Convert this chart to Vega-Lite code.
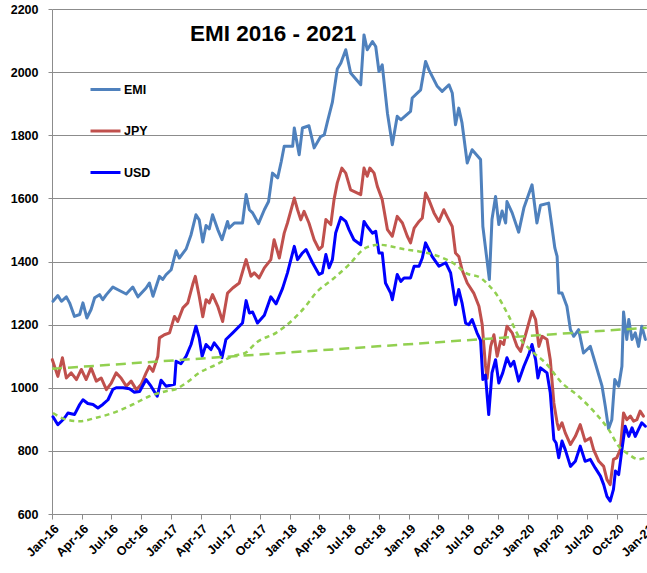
{
  "$schema": "https://vega.github.io/schema/vega-lite/v6.json",
  "autosize": {"type": "none"},
  "width": 595,
  "height": 505,
  "padding": {"left": 52, "top": 9, "right": 0, "bottom": 59},
  "background": "white",
  "title": {"text": "EMI 2016 - 2021", "anchor": "start", "frame": "group", "orient": "top", "offset": -27, "dx": 138, "dy": 33, "baseline": "alphabetic", "font": "Liberation Sans", "fontSize": 22.5, "fontWeight": "bold", "color": "black"},
  "datasets": {
    "series": [
      {"series":"EMI","date":"2016-01-04","value":1274},{"series":"EMI","date":"2016-01-19","value":1292},{"series":"EMI","date":"2016-01-30","value":1274},{"series":"EMI","date":"2016-02-14","value":1288},{"series":"EMI","date":"2016-02-24","value":1269},{"series":"EMI","date":"2016-03-10","value":1226},{"series":"EMI","date":"2016-03-26","value":1232},{"series":"EMI","date":"2016-04-05","value":1269},{"series":"EMI","date":"2016-04-17","value":1221},{"series":"EMI","date":"2016-04-30","value":1248},{"series":"EMI","date":"2016-05-11","value":1285},{"series":"EMI","date":"2016-05-26","value":1295},{"series":"EMI","date":"2016-06-05","value":1279},{"series":"EMI","date":"2016-06-16","value":1295},{"series":"EMI","date":"2016-07-06","value":1319},{"series":"EMI","date":"2016-07-26","value":1308},{"series":"EMI","date":"2016-08-16","value":1297},{"series":"EMI","date":"2016-09-05","value":1319},{"series":"EMI","date":"2016-09-21","value":1288},{"series":"EMI","date":"2016-10-16","value":1316},{"series":"EMI","date":"2016-10-26","value":1332},{"series":"EMI","date":"2016-11-06","value":1290},{"series":"EMI","date":"2016-11-26","value":1353},{"series":"EMI","date":"2016-12-06","value":1343},{"series":"EMI","date":"2016-12-16","value":1358},{"series":"EMI","date":"2017-01-01","value":1374},{"series":"EMI","date":"2017-01-16","value":1434},{"series":"EMI","date":"2017-01-26","value":1411},{"series":"EMI","date":"2017-02-16","value":1440},{"series":"EMI","date":"2017-03-03","value":1485},{"series":"EMI","date":"2017-03-18","value":1548},{"series":"EMI","date":"2017-03-28","value":1532},{"series":"EMI","date":"2017-04-08","value":1462},{"series":"EMI","date":"2017-04-18","value":1514},{"series":"EMI","date":"2017-04-28","value":1503},{"series":"EMI","date":"2017-05-08","value":1548},{"series":"EMI","date":"2017-05-24","value":1501},{"series":"EMI","date":"2017-06-06","value":1469},{"series":"EMI","date":"2017-06-23","value":1527},{"series":"EMI","date":"2017-06-28","value":1506},{"series":"EMI","date":"2017-07-14","value":1522},{"series":"EMI","date":"2017-08-08","value":1522},{"series":"EMI","date":"2017-08-19","value":1612},{"series":"EMI","date":"2017-08-29","value":1564},{"series":"EMI","date":"2017-09-08","value":1554},{"series":"EMI","date":"2017-09-26","value":1520},{"series":"EMI","date":"2017-10-14","value":1564},{"series":"EMI","date":"2017-10-27","value":1590},{"series":"EMI","date":"2017-11-08","value":1680},{"series":"EMI","date":"2017-11-24","value":1665},{"series":"EMI","date":"2017-12-05","value":1717},{"series":"EMI","date":"2017-12-14","value":1765},{"series":"EMI","date":"2018-01-09","value":1765},{"series":"EMI","date":"2018-01-14","value":1823},{"series":"EMI","date":"2018-01-29","value":1738},{"series":"EMI","date":"2018-02-08","value":1823},{"series":"EMI","date":"2018-02-28","value":1830},{"series":"EMI","date":"2018-03-16","value":1760},{"series":"EMI","date":"2018-04-05","value":1796},{"series":"EMI","date":"2018-04-16","value":1801},{"series":"EMI","date":"2018-04-26","value":1844},{"series":"EMI","date":"2018-05-11","value":1905},{"series":"EMI","date":"2018-05-26","value":2010},{"series":"EMI","date":"2018-06-06","value":2029},{"series":"EMI","date":"2018-06-21","value":2071},{"series":"EMI","date":"2018-07-06","value":1997},{"series":"EMI","date":"2018-08-06","value":1960},{"series":"EMI","date":"2018-08-16","value":2118},{"series":"EMI","date":"2018-08-26","value":2071},{"series":"EMI","date":"2018-09-11","value":2097},{"series":"EMI","date":"2018-09-21","value":2081},{"series":"EMI","date":"2018-10-01","value":2002},{"series":"EMI","date":"2018-10-11","value":2023},{"series":"EMI","date":"2018-10-27","value":1870},{"series":"EMI","date":"2018-11-11","value":1770},{"series":"EMI","date":"2018-11-26","value":1860},{"series":"EMI","date":"2018-12-07","value":1849},{"series":"EMI","date":"2019-01-06","value":1876},{"series":"EMI","date":"2019-01-11","value":1918},{"series":"EMI","date":"2019-02-06","value":1944},{"series":"EMI","date":"2019-02-21","value":2034},{"series":"EMI","date":"2019-03-03","value":2008},{"series":"EMI","date":"2019-03-29","value":1955},{"series":"EMI","date":"2019-04-13","value":1939},{"series":"EMI","date":"2019-05-04","value":1960},{"series":"EMI","date":"2019-05-14","value":1934},{"series":"EMI","date":"2019-05-24","value":1833},{"series":"EMI","date":"2019-06-03","value":1886},{"series":"EMI","date":"2019-06-13","value":1839},{"series":"EMI","date":"2019-06-29","value":1712},{"series":"EMI","date":"2019-07-14","value":1754},{"series":"EMI","date":"2019-08-09","value":1723},{"series":"EMI","date":"2019-08-16","value":1511},{"series":"EMI","date":"2019-09-05","value":1343},{"series":"EMI","date":"2019-09-13","value":1533},{"series":"EMI","date":"2019-09-24","value":1606},{"series":"EMI","date":"2019-10-04","value":1517},{"series":"EMI","date":"2019-10-14","value":1560},{"series":"EMI","date":"2019-10-25","value":1522},{"series":"EMI","date":"2019-10-29","value":1590},{"series":"EMI","date":"2019-11-14","value":1554},{"series":"EMI","date":"2019-12-04","value":1493},{"series":"EMI","date":"2019-12-20","value":1570},{"series":"EMI","date":"2020-01-14","value":1643},{"series":"EMI","date":"2020-01-29","value":1522},{"series":"EMI","date":"2020-02-09","value":1578},{"series":"EMI","date":"2020-03-05","value":1585},{"series":"EMI","date":"2020-03-15","value":1511},{"series":"EMI","date":"2020-03-24","value":1443},{"series":"EMI","date":"2020-03-31","value":1416},{"series":"EMI","date":"2020-04-05","value":1300},{"series":"EMI","date":"2020-04-15","value":1300},{"series":"EMI","date":"2020-04-30","value":1258},{"series":"EMI","date":"2020-05-11","value":1184},{"series":"EMI","date":"2020-05-21","value":1163},{"series":"EMI","date":"2020-06-05","value":1184},{"series":"EMI","date":"2020-06-20","value":1110},{"series":"EMI","date":"2020-07-11","value":1131},{"series":"EMI","date":"2020-07-26","value":1079},{"series":"EMI","date":"2020-08-16","value":1005},{"series":"EMI","date":"2020-08-26","value":941},{"series":"EMI","date":"2020-09-05","value":870},{"series":"EMI","date":"2020-09-15","value":899},{"series":"EMI","date":"2020-09-24","value":1026},{"series":"EMI","date":"2020-10-06","value":1005},{"series":"EMI","date":"2020-10-16","value":1068},{"series":"EMI","date":"2020-10-21","value":1240},{"series":"EMI","date":"2020-10-31","value":1153},{"series":"EMI","date":"2020-11-06","value":1216},{"series":"EMI","date":"2020-11-16","value":1153},{"series":"EMI","date":"2020-11-26","value":1174},{"series":"EMI","date":"2020-12-06","value":1131},{"series":"EMI","date":"2020-12-16","value":1195},{"series":"EMI","date":"2020-12-27","value":1153},
      {"series":"JPY","date":"2016-01-02","value":1089},{"series":"JPY","date":"2016-01-19","value":1036},{"series":"JPY","date":"2016-02-02","value":1095},{"series":"JPY","date":"2016-02-14","value":1031},{"series":"JPY","date":"2016-02-29","value":1047},{"series":"JPY","date":"2016-03-16","value":1026},{"series":"JPY","date":"2016-03-31","value":1058},{"series":"JPY","date":"2016-04-15","value":1026},{"series":"JPY","date":"2016-04-30","value":1063},{"series":"JPY","date":"2016-05-16","value":1021},{"series":"JPY","date":"2016-05-31","value":1031},{"series":"JPY","date":"2016-06-16","value":994},{"series":"JPY","date":"2016-07-01","value":1015},{"series":"JPY","date":"2016-07-16","value":1047},{"series":"JPY","date":"2016-07-31","value":1031},{"series":"JPY","date":"2016-08-16","value":1005},{"series":"JPY","date":"2016-08-31","value":1021},{"series":"JPY","date":"2016-09-16","value":994},{"series":"JPY","date":"2016-10-01","value":1011},{"series":"JPY","date":"2016-10-16","value":1047},{"series":"JPY","date":"2016-10-26","value":1068},{"series":"JPY","date":"2016-11-06","value":1052},{"series":"JPY","date":"2016-11-21","value":1100},{"series":"JPY","date":"2016-11-26","value":1158},{"series":"JPY","date":"2016-12-11","value":1168},{"series":"JPY","date":"2016-12-27","value":1174},{"series":"JPY","date":"2017-01-11","value":1226},{"series":"JPY","date":"2017-01-21","value":1210},{"series":"JPY","date":"2017-02-06","value":1253},{"series":"JPY","date":"2017-02-21","value":1269},{"series":"JPY","date":"2017-03-08","value":1327},{"series":"JPY","date":"2017-03-16","value":1353},{"series":"JPY","date":"2017-03-28","value":1290},{"series":"JPY","date":"2017-04-08","value":1225},{"series":"JPY","date":"2017-04-18","value":1279},{"series":"JPY","date":"2017-04-28","value":1269},{"series":"JPY","date":"2017-05-08","value":1295},{"series":"JPY","date":"2017-05-24","value":1258},{"series":"JPY","date":"2017-06-08","value":1210},{"series":"JPY","date":"2017-06-23","value":1300},{"series":"JPY","date":"2017-07-09","value":1316},{"series":"JPY","date":"2017-07-29","value":1332},{"series":"JPY","date":"2017-08-19","value":1406},{"series":"JPY","date":"2017-09-03","value":1353},{"series":"JPY","date":"2017-09-13","value":1364},{"series":"JPY","date":"2017-09-28","value":1348},{"series":"JPY","date":"2017-10-14","value":1380},{"series":"JPY","date":"2017-11-03","value":1406},{"series":"JPY","date":"2017-11-13","value":1469},{"series":"JPY","date":"2017-11-29","value":1411},{"series":"JPY","date":"2017-12-14","value":1490},{"series":"JPY","date":"2017-12-24","value":1522},{"series":"JPY","date":"2018-01-14","value":1601},{"series":"JPY","date":"2018-01-24","value":1564},{"series":"JPY","date":"2018-02-03","value":1532},{"series":"JPY","date":"2018-02-13","value":1559},{"series":"JPY","date":"2018-02-28","value":1522},{"series":"JPY","date":"2018-03-16","value":1469},{"series":"JPY","date":"2018-03-31","value":1438},{"series":"JPY","date":"2018-04-10","value":1448},{"series":"JPY","date":"2018-04-21","value":1533},{"series":"JPY","date":"2018-05-06","value":1517},{"series":"JPY","date":"2018-05-16","value":1596},{"series":"JPY","date":"2018-05-26","value":1649},{"series":"JPY","date":"2018-06-09","value":1696},{"series":"JPY","date":"2018-06-21","value":1680},{"series":"JPY","date":"2018-07-06","value":1627},{"series":"JPY","date":"2018-08-06","value":1612},{"series":"JPY","date":"2018-08-16","value":1696},{"series":"JPY","date":"2018-08-26","value":1670},{"series":"JPY","date":"2018-09-03","value":1696},{"series":"JPY","date":"2018-09-16","value":1680},{"series":"JPY","date":"2018-09-26","value":1638},{"series":"JPY","date":"2018-10-11","value":1596},{"series":"JPY","date":"2018-10-27","value":1501},{"series":"JPY","date":"2018-11-11","value":1480},{"series":"JPY","date":"2018-11-26","value":1543},{"series":"JPY","date":"2018-12-12","value":1522},{"series":"JPY","date":"2018-12-27","value":1480},{"series":"JPY","date":"2019-01-06","value":1459},{"series":"JPY","date":"2019-01-17","value":1506},{"series":"JPY","date":"2019-02-01","value":1527},{"series":"JPY","date":"2019-02-11","value":1538},{"series":"JPY","date":"2019-02-21","value":1617},{"series":"JPY","date":"2019-03-03","value":1596},{"series":"JPY","date":"2019-03-19","value":1554},{"series":"JPY","date":"2019-04-03","value":1527},{"series":"JPY","date":"2019-04-18","value":1564},{"series":"JPY","date":"2019-04-28","value":1543},{"series":"JPY","date":"2019-05-14","value":1511},{"series":"JPY","date":"2019-05-24","value":1427},{"series":"JPY","date":"2019-06-03","value":1416},{"series":"JPY","date":"2019-06-13","value":1374},{"series":"JPY","date":"2019-06-29","value":1332},{"series":"JPY","date":"2019-07-19","value":1300},{"series":"JPY","date":"2019-08-04","value":1258},{"series":"JPY","date":"2019-08-14","value":1200},{"series":"JPY","date":"2019-08-24","value":1070},{"series":"JPY","date":"2019-08-29","value":1030},{"series":"JPY","date":"2019-09-09","value":1131},{"series":"JPY","date":"2019-09-19","value":1168},{"series":"JPY","date":"2019-09-29","value":1100},{"series":"JPY","date":"2019-10-09","value":1147},{"series":"JPY","date":"2019-10-19","value":1137},{"series":"JPY","date":"2019-10-29","value":1195},{"series":"JPY","date":"2019-11-14","value":1174},{"series":"JPY","date":"2019-11-29","value":1131},{"series":"JPY","date":"2019-12-10","value":1115},{"series":"JPY","date":"2019-12-25","value":1168},{"series":"JPY","date":"2020-01-14","value":1242},{"series":"JPY","date":"2020-01-25","value":1216},{"series":"JPY","date":"2020-02-04","value":1131},{"series":"JPY","date":"2020-02-14","value":1163},{"series":"JPY","date":"2020-02-29","value":1153},{"series":"JPY","date":"2020-03-10","value":1089},{"series":"JPY","date":"2020-03-21","value":952},{"series":"JPY","date":"2020-03-31","value":889},{"series":"JPY","date":"2020-04-05","value":868},{"series":"JPY","date":"2020-04-15","value":889},{"series":"JPY","date":"2020-04-25","value":857},{"series":"JPY","date":"2020-05-11","value":820},{"series":"JPY","date":"2020-05-26","value":846},{"series":"JPY","date":"2020-06-10","value":883},{"series":"JPY","date":"2020-06-25","value":831},{"series":"JPY","date":"2020-07-11","value":841},{"series":"JPY","date":"2020-07-21","value":804},{"series":"JPY","date":"2020-08-06","value":767},{"series":"JPY","date":"2020-08-21","value":751},{"series":"JPY","date":"2020-08-31","value":709},{"series":"JPY","date":"2020-09-10","value":693},{"series":"JPY","date":"2020-09-20","value":773},{"series":"JPY","date":"2020-09-30","value":778},{"series":"JPY","date":"2020-10-11","value":804},{"series":"JPY","date":"2020-10-21","value":920},{"series":"JPY","date":"2020-10-31","value":899},{"series":"JPY","date":"2020-11-11","value":910},{"series":"JPY","date":"2020-11-21","value":894},{"series":"JPY","date":"2020-12-01","value":899},{"series":"JPY","date":"2020-12-11","value":926},{"series":"JPY","date":"2020-12-21","value":910},
      {"series":"USD","date":"2016-01-04","value":908},{"series":"USD","date":"2016-01-19","value":883},{"series":"USD","date":"2016-01-30","value":894},{"series":"USD","date":"2016-02-09","value":905},{"series":"USD","date":"2016-02-19","value":920},{"series":"USD","date":"2016-03-10","value":915},{"series":"USD","date":"2016-03-26","value":947},{"series":"USD","date":"2016-04-05","value":962},{"series":"USD","date":"2016-04-20","value":950},{"series":"USD","date":"2016-05-06","value":947},{"series":"USD","date":"2016-05-21","value":936},{"series":"USD","date":"2016-06-05","value":947},{"series":"USD","date":"2016-06-21","value":962},{"series":"USD","date":"2016-07-06","value":995},{"series":"USD","date":"2016-07-16","value":1000},{"series":"USD","date":"2016-08-06","value":1000},{"series":"USD","date":"2016-08-26","value":997},{"series":"USD","date":"2016-09-10","value":986},{"series":"USD","date":"2016-09-26","value":988},{"series":"USD","date":"2016-10-16","value":1026},{"series":"USD","date":"2016-10-31","value":1005},{"series":"USD","date":"2016-11-19","value":973},{"series":"USD","date":"2016-12-01","value":1024},{"series":"USD","date":"2016-12-16","value":1005},{"series":"USD","date":"2017-01-11","value":1011},{"series":"USD","date":"2017-01-16","value":1084},{"series":"USD","date":"2017-01-31","value":1076},{"series":"USD","date":"2017-02-16","value":1100},{"series":"USD","date":"2017-03-03","value":1137},{"series":"USD","date":"2017-03-18","value":1195},{"series":"USD","date":"2017-03-28","value":1158},{"series":"USD","date":"2017-04-06","value":1100},{"series":"USD","date":"2017-04-18","value":1137},{"series":"USD","date":"2017-05-03","value":1121},{"series":"USD","date":"2017-05-13","value":1142},{"series":"USD","date":"2017-05-29","value":1121},{"series":"USD","date":"2017-06-06","value":1095},{"series":"USD","date":"2017-06-18","value":1153},{"series":"USD","date":"2017-07-09","value":1174},{"series":"USD","date":"2017-08-08","value":1205},{"series":"USD","date":"2017-08-19","value":1276},{"series":"USD","date":"2017-08-29","value":1237},{"series":"USD","date":"2017-09-08","value":1240},{"series":"USD","date":"2017-09-23","value":1205},{"series":"USD","date":"2017-10-14","value":1230},{"series":"USD","date":"2017-11-03","value":1288},{"series":"USD","date":"2017-11-19","value":1266},{"series":"USD","date":"2017-12-09","value":1315},{"series":"USD","date":"2017-12-24","value":1364},{"series":"USD","date":"2018-01-14","value":1448},{"series":"USD","date":"2018-01-24","value":1406},{"series":"USD","date":"2018-02-08","value":1427},{"series":"USD","date":"2018-02-19","value":1438},{"series":"USD","date":"2018-03-11","value":1396},{"series":"USD","date":"2018-03-31","value":1359},{"series":"USD","date":"2018-04-10","value":1364},{"series":"USD","date":"2018-04-21","value":1422},{"series":"USD","date":"2018-05-01","value":1380},{"series":"USD","date":"2018-05-11","value":1406},{"series":"USD","date":"2018-05-21","value":1490},{"series":"USD","date":"2018-06-06","value":1540},{"series":"USD","date":"2018-06-21","value":1527},{"series":"USD","date":"2018-07-01","value":1501},{"series":"USD","date":"2018-07-16","value":1469},{"series":"USD","date":"2018-08-06","value":1453},{"series":"USD","date":"2018-08-16","value":1527},{"series":"USD","date":"2018-08-26","value":1511},{"series":"USD","date":"2018-09-11","value":1490},{"series":"USD","date":"2018-09-21","value":1496},{"series":"USD","date":"2018-10-01","value":1427},{"series":"USD","date":"2018-10-11","value":1427},{"series":"USD","date":"2018-10-21","value":1332},{"series":"USD","date":"2018-11-06","value":1300},{"series":"USD","date":"2018-11-11","value":1279},{"series":"USD","date":"2018-11-26","value":1359},{"series":"USD","date":"2018-12-07","value":1337},{"series":"USD","date":"2018-12-17","value":1348},{"series":"USD","date":"2019-01-06","value":1348},{"series":"USD","date":"2019-01-17","value":1385},{"series":"USD","date":"2019-02-01","value":1385},{"series":"USD","date":"2019-02-11","value":1411},{"series":"USD","date":"2019-02-21","value":1459},{"series":"USD","date":"2019-03-03","value":1438},{"series":"USD","date":"2019-03-13","value":1416},{"series":"USD","date":"2019-04-03","value":1385},{"series":"USD","date":"2019-04-24","value":1396},{"series":"USD","date":"2019-05-09","value":1364},{"series":"USD","date":"2019-05-24","value":1263},{"series":"USD","date":"2019-06-03","value":1311},{"series":"USD","date":"2019-06-13","value":1269},{"series":"USD","date":"2019-06-24","value":1205},{"series":"USD","date":"2019-07-04","value":1200},{"series":"USD","date":"2019-07-14","value":1216},{"series":"USD","date":"2019-07-29","value":1174},{"series":"USD","date":"2019-08-09","value":1150},{"series":"USD","date":"2019-08-16","value":1026},{"series":"USD","date":"2019-08-24","value":1040},{"series":"USD","date":"2019-09-03","value":915},{"series":"USD","date":"2019-09-13","value":1047},{"series":"USD","date":"2019-09-24","value":1089},{"series":"USD","date":"2019-10-04","value":1015},{"series":"USD","date":"2019-10-16","value":1047},{"series":"USD","date":"2019-10-29","value":1095},{"series":"USD","date":"2019-11-09","value":1068},{"series":"USD","date":"2019-11-19","value":1084},{"series":"USD","date":"2019-12-04","value":1021},{"series":"USD","date":"2019-12-20","value":1068},{"series":"USD","date":"2020-01-04","value":1105},{"series":"USD","date":"2020-01-14","value":1137},{"series":"USD","date":"2020-01-25","value":1089},{"series":"USD","date":"2020-02-01","value":1031},{"series":"USD","date":"2020-02-09","value":1063},{"series":"USD","date":"2020-02-29","value":1047},{"series":"USD","date":"2020-03-10","value":984},{"series":"USD","date":"2020-03-21","value":836},{"series":"USD","date":"2020-03-28","value":825},{"series":"USD","date":"2020-04-05","value":778},{"series":"USD","date":"2020-04-15","value":831},{"series":"USD","date":"2020-04-25","value":804},{"series":"USD","date":"2020-05-11","value":751},{"series":"USD","date":"2020-05-26","value":767},{"series":"USD","date":"2020-06-10","value":815},{"series":"USD","date":"2020-06-25","value":767},{"series":"USD","date":"2020-07-11","value":773},{"series":"USD","date":"2020-07-26","value":746},{"series":"USD","date":"2020-08-11","value":720},{"series":"USD","date":"2020-08-21","value":693},{"series":"USD","date":"2020-08-31","value":656},{"series":"USD","date":"2020-09-10","value":641},{"series":"USD","date":"2020-09-20","value":678},{"series":"USD","date":"2020-09-26","value":736},{"series":"USD","date":"2020-10-06","value":725},{"series":"USD","date":"2020-10-16","value":804},{"series":"USD","date":"2020-10-26","value":878},{"series":"USD","date":"2020-11-06","value":846},{"series":"USD","date":"2020-11-16","value":873},{"series":"USD","date":"2020-11-26","value":846},{"series":"USD","date":"2020-12-06","value":868},{"series":"USD","date":"2020-12-16","value":889},{"series":"USD","date":"2020-12-27","value":878}
    ],
    "linear": [
      {"date":"2016-01-01","value":1060},{"date":"2020-12-31","value":1190}
    ],
    "poly": [
      {"date":"2016-01-04","value":920},{"date":"2016-02-14","value":899},{"date":"2016-03-26","value":894},{"date":"2016-05-16","value":905},{"date":"2016-07-06","value":920},{"date":"2016-09-05","value":947},{"date":"2016-10-26","value":973},{"date":"2016-12-16","value":989},{"date":"2017-01-16","value":996},{"date":"2017-02-16","value":1015},{"date":"2017-03-28","value":1047},{"date":"2017-05-19","value":1073},{"date":"2017-07-09","value":1100},{"date":"2017-08-19","value":1112},{"date":"2017-09-18","value":1142},{"date":"2017-11-19","value":1174},{"date":"2018-01-09","value":1215},{"date":"2018-02-19","value":1260},{"date":"2018-03-21","value":1300},{"date":"2018-05-11","value":1343},{"date":"2018-07-01","value":1390},{"date":"2018-08-21","value":1443},{"date":"2018-10-01","value":1453},{"date":"2018-12-22","value":1438},{"date":"2019-02-01","value":1432},{"date":"2019-04-03","value":1416},{"date":"2019-05-24","value":1390},{"date":"2019-06-24","value":1364},{"date":"2019-08-09","value":1348},{"date":"2019-09-03","value":1325},{"date":"2019-09-24","value":1300},{"date":"2019-11-04","value":1226},{"date":"2019-12-04","value":1163},{"date":"2020-01-14","value":1115},{"date":"2020-02-24","value":1079},{"date":"2020-04-15","value":1015},{"date":"2020-06-05","value":973},{"date":"2020-07-26","value":920},{"date":"2020-09-05","value":868},{"date":"2020-10-06","value":815},{"date":"2020-11-06","value":789},{"date":"2020-12-06","value":773},{"date":"2020-12-27","value":778}
    ]
  },
  "layer": [
    {
      "data": {"name": "series"},
      "mark": {"type": "line", "strokeJoin": "round", "strokeCap": "round"},
      "encoding": {
        "x": {"field": "date", "type": "temporal",
          "scale": {"domain": [{"year": 2016, "month": 1, "date": 1}, {"year": 2021, "month": 1, "date": 1}]},
          "axis": {"title": null, "format": "%b-%y", "tickCount": {"interval": "month", "step": 3}, "labelAngle": -45, "labelFont": "Liberation Sans", "labelFontSize": 12.5, "labelFontWeight": "bold", "labelColor": "black", "domainColor": "#8c8c8c", "tickColor": "#8c8c8c", "tickSize": 5, "grid": false, "labelPadding": 3, "labelFlush": false, "labelOverlap": false, "labelBound": false}},
        "y": {"field": "value", "type": "quantitative",
          "scale": {"domain": [600, 2200], "nice": false, "zero": false},
          "axis": {"title": null, "format": "d", "values": [600, 800, 1000, 1200, 1400, 1600, 1800, 2000, 2200], "labelFont": "Liberation Sans", "labelFontSize": 12.5, "labelFontWeight": "bold", "labelColor": "black", "domainColor": "#8c8c8c", "tickColor": "#8c8c8c", "tickSize": 4, "labelPadding": 10, "grid": true, "gridColor": "#8c8c8c", "gridWidth": 1}},
        "color": {"field": "series", "type": "nominal",
          "scale": {"domain": ["EMI", "JPY", "USD"], "range": ["#4F81BD", "#C0504D", "#0000FF"]},
          "legend": {"orient": "none", "legendX": 37, "legendY": 64, "title": null, "symbolType": "stroke", "symbolSize": 900, "labelFont": "Liberation Sans", "labelFontSize": 12.5, "labelFontWeight": "bold", "labelColor": "black", "rowPadding": 18.5, "labelOffset": 2, "padding": 0}},
        "strokeWidth": {"field": "series", "type": "nominal",
          "scale": {"domain": ["EMI", "JPY", "USD"], "range": [3, 3, 4.5]},
          "legend": {"orient": "none", "legendX": 37, "legendY": 64, "title": null, "symbolType": "stroke", "symbolSize": 900, "labelFont": "Liberation Sans", "labelFontSize": 12.5, "labelFontWeight": "bold", "labelColor": "black", "rowPadding": 18.5, "labelOffset": 2, "padding": 0}}
      }
    },
    {
      "data": {"name": "linear"},
      "mark": {"type": "line", "color": "#92D050", "strokeWidth": 2.5, "strokeDash": [10, 6]},
      "encoding": {"x": {"field": "date", "type": "temporal"}, "y": {"field": "value", "type": "quantitative"}}
    },
    {
      "data": {"name": "poly"},
      "mark": {"type": "line", "color": "#92D050", "strokeWidth": 2.5, "strokeDash": [5, 4], "interpolate": "monotone"},
      "encoding": {"x": {"field": "date", "type": "temporal"}, "y": {"field": "value", "type": "quantitative"}}
    }
  ],
  "config": {"view": {"stroke": null}, "font": "Liberation Sans"}
}
